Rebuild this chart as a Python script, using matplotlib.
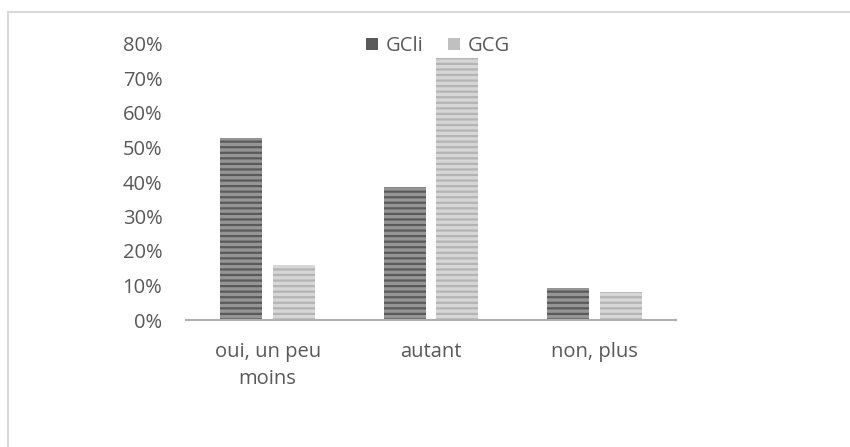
import matplotlib.pyplot as plt
from matplotlib.lines import Line2D
from matplotlib.patches import Patch
from matplotlib.ticker import PercentFormatter
import numpy as np

categories = ["oui, un peu\nmoins", "autant", "non, plus"]
gcli = [0.527, 0.385, 0.093]
gcg = [0.16, 0.76, 0.08]
series_names = ["GCli", "GCG"]
yticks = [0, 0.1, 0.2, 0.3, 0.4, 0.5, 0.6, 0.7, 0.8]

TEXT = "#595959"
plt.rcParams['font.family'] = ['Open Sans', 'DejaVu Sans']
plt.rcParams['hatch.linewidth'] = 1.6


def plot():
    fig = plt.figure(figsize=(8.5, 4.47), dpi=100)

    # light frame along the top and left edges
    fx, fy = 7.5 / 850, 1 - 11.5 / 447
    fig.add_artist(Line2D([fx, 1.0], [fy, fy], transform=fig.transFigure,
                          color="#d9d9d9", linewidth=1.5))
    fig.add_artist(Line2D([fx, fx], [0.0, fy], transform=fig.transFigure,
                          color="#d9d9d9", linewidth=1.5))

    ax = fig.add_axes([186 / 850, 127 / 447, 490 / 850, 276 / 447])
    x = np.arange(len(categories))
    w = 0.257
    off = 0.162

    plt.rcParams['hatch.color'] = "#5a5a5a"
    ax.bar(x - off, gcli, w, color="#959595", hatch="---", edgecolor="#5a5a5a",
           linewidth=0)
    plt.rcParams['hatch.color'] = "#b4b4b4"
    ax.bar(x + off, gcg, w, color="#d6d6d6", hatch="---", edgecolor="#b4b4b4",
           linewidth=0)

    ax.set_xlim(-0.5, 2.5)
    ax.set_ylim(0, 0.8)
    ax.set_yticks(yticks)
    ax.yaxis.set_major_formatter(PercentFormatter(1.0, decimals=0))
    ax.set_xticks(x)
    ax.set_xticklabels(categories, linespacing=1.45)
    ax.tick_params(axis="y", length=0, pad=17, labelsize=14.5, labelcolor=TEXT)
    ax.tick_params(axis="x", length=0, pad=16, labelsize=14.5, labelcolor=TEXT)

    for side in ["top", "right", "left"]:
        ax.spines[side].set_visible(False)
    ax.spines["bottom"].set_color("#b0b0b0")
    ax.spines["bottom"].set_linewidth(1.5)

    handles = [Patch(facecolor="#5a5a5a"), Patch(facecolor="#c0c0c0")]
    fig.legend(handles, series_names, loc="center", bbox_to_anchor=(438 / 850, 1 - 46 / 447),
               ncol=2, frameon=False, fontsize=14.5, labelcolor=TEXT,
               handlelength=0.6, handleheight=0.6, handletextpad=0.4,
               columnspacing=1.2, borderaxespad=0)

    fig.savefig("out.png", dpi=100)


if __name__ == "__main__":
    plot()
